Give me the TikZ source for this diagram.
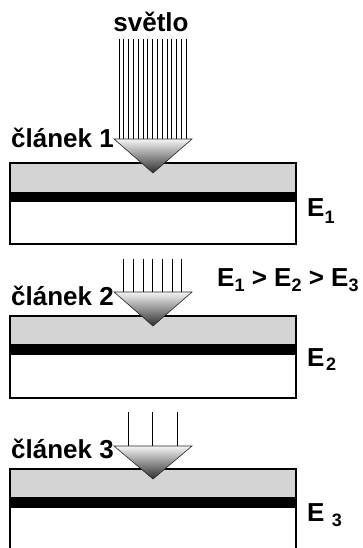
\documentclass[tikz,border=0pt]{standalone}
\usepackage{fontspec}
\setmainfont{Liberation Sans}
% lowered index digit next to E
\newcommand{\lowidx}[2][5pt]{\raisebox{-#1}{\fontsize{18}{18}\selectfont #2}}

\begin{document}
\begin{tikzpicture}[x=1pt, y=-1pt,
  lbl/.style={font=\fontsize{26}{29}\selectfont\bfseries, inner sep=0pt},
  top layer/.style={fill=black!17},
  junction/.style={fill=black},
  plate/.style={draw, line width=1.4pt},
  ray/.style={line width=0.7pt},
  prism/.style={draw=black!85, line width=0.6pt, top color=black!4, bottom color=black!82}
]
\clip (0,0) rectangle (362,548);

% cell 1
\fill[top layer] (10,163) rectangle (296,192);
\fill[junction]  (10,192) rectangle (296,202);
\draw[plate]     (10,163) rectangle (296,244);
\foreach \i in {0,...,14}
  \draw[ray] (119+4.8*\i,39) -- (119+4.8*\i,139);
\draw[prism] (114,139) -- (192,139) -- (153,173) -- cycle;

% cell 2
\fill[top layer] (10,316) rectangle (296,344);
\fill[junction]  (10,344) rectangle (296,355);
\draw[plate]     (10,316) rectangle (296,398);
\foreach \i in {0,...,6}
  \draw[ray] (123.5+9.7*\i,259) -- (123.5+9.7*\i,292);
\draw[prism] (114,292) -- (192,292) -- (153,326) -- cycle;

% cell 3
\fill[top layer] (10,469) rectangle (296,497);
\fill[junction]  (10,497) rectangle (296,508);
\draw[plate]     (10,469) rectangle (296,570);
\foreach \i in {0,...,2}
  \draw[ray] (128+24.5*\i,412) -- (128+24.5*\i,446);
\draw[prism] (114,446) -- (192,446) -- (153,479) -- cycle;

% labels
\node[lbl, anchor=base] (light) at (151,32) {světlo};
\node[lbl, anchor=base west] (cell1) at (11,148) {článek 1};
\node[lbl, anchor=base west] (cell2) at (11,305) {článek 2};
\node[lbl, anchor=base west] (cell3) at (11,458) {článek 3};
\node[lbl, anchor=base west] (e1) at (307,216) {E\lowidx[7pt]{1}};
\node[lbl, anchor=base west] (e2) at (307,366) {E\kern1.5pt\lowidx[4pt]{2}};
\node[lbl, anchor=base west] (e3) at (307,521) {E\;\lowidx[5pt]{3}};
\node[lbl, anchor=base west] (order) at (217,286)
  {E\lowidx{1} > E\lowidx{2} > E\lowidx{3}};

\end{tikzpicture}
\end{document}
